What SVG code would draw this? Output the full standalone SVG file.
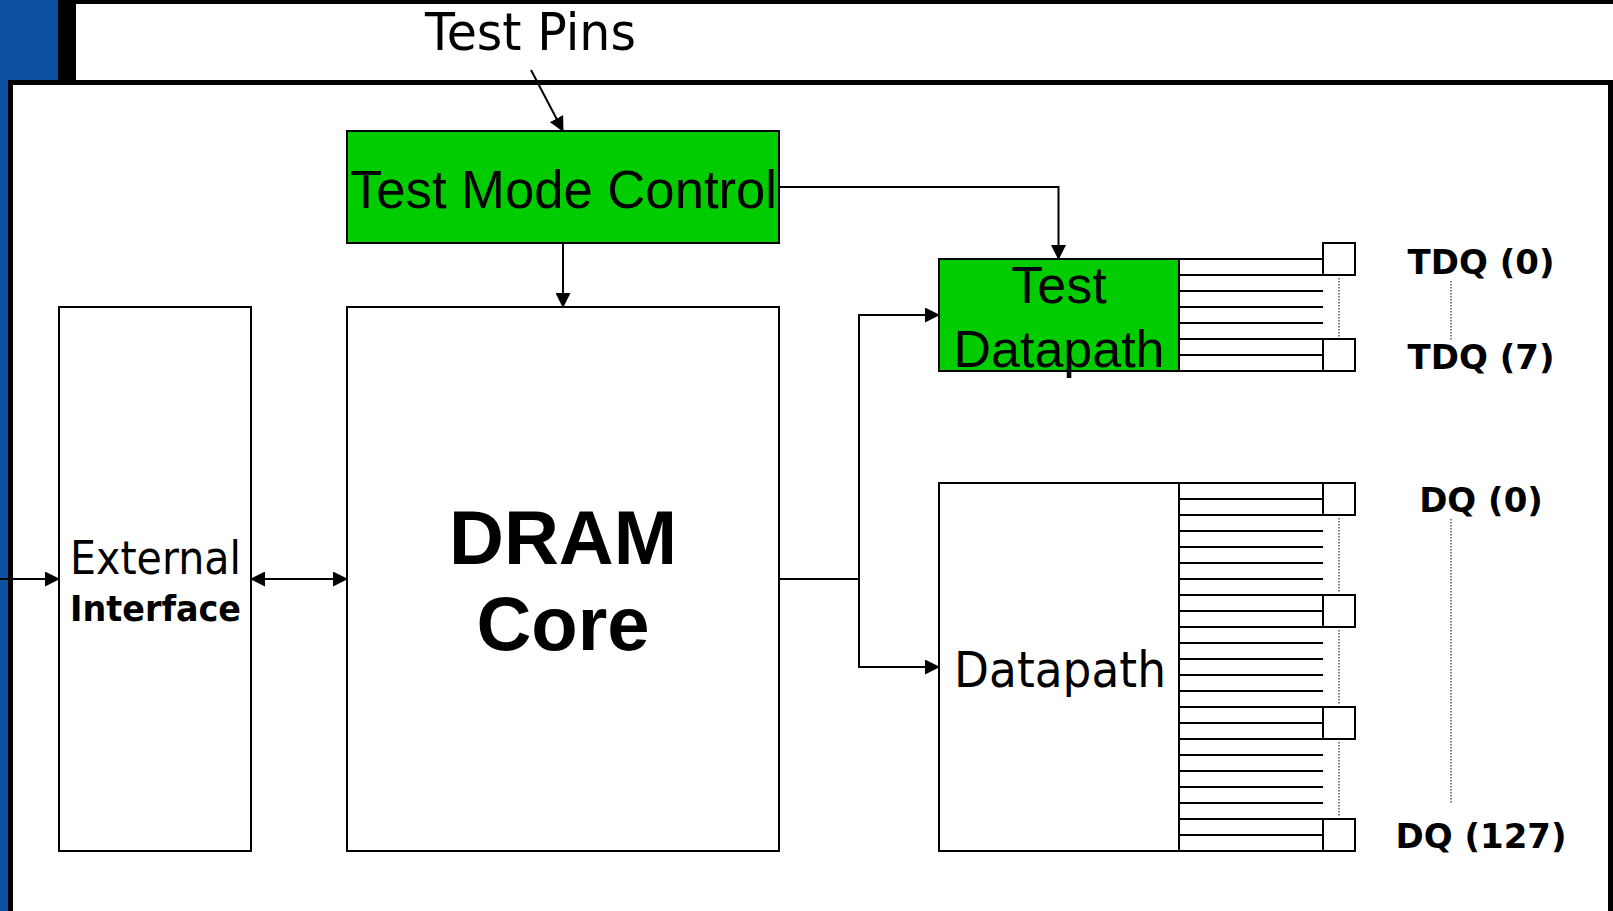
<svg xmlns="http://www.w3.org/2000/svg" width="1613" height="911" viewBox="0 0 1613 911">
  <style>
    .box { fill: #ffffff; stroke: #000; stroke-width: 2; }
    .green { fill: #00cc00; stroke: #000; stroke-width: 2; }
    .wire { fill: none; stroke: #000; stroke-width: 2; }
    .bus { stroke: #000; stroke-width: 2; }
    .dots { stroke: #333; stroke-width: 1.2; stroke-dasharray: 1.5 1.5; }
    .sans { font-family: "Liberation Sans", Arial, sans-serif; fill: #000; }
    .hum { font-family: "DejaVu Sans", Verdana, sans-serif; fill: #000; }
    .pin { font-family: "DejaVu Sans", Verdana, sans-serif; font-weight: bold; font-size: 34px; fill: #000; text-anchor: middle; }
  </style>
  <defs>
    <marker id="arrow" markerUnits="userSpaceOnUse" markerWidth="15" markerHeight="15" refX="14" refY="7.5" orient="auto-start-reverse" viewBox="0 0 15 15">
      <path d="M0,0 L15,7.5 L0,15 z" fill="#000"/>
    </marker>
  </defs>

  <!-- slide background and frame -->
  <rect x="0" y="0" width="1613" height="911" fill="#ffffff"/>
  <rect x="0" y="0" width="58" height="82" fill="#0c51a1"/>
  <rect x="0" y="0" width="9" height="911" fill="#0c51a1"/>
  <rect x="58" y="0" width="18" height="82" fill="#000"/>
  <rect x="58" y="0" width="1555" height="4" fill="#000"/>
  <rect x="10.5" y="82.5" width="1600" height="900" fill="none" stroke="#000" stroke-width="5"/>

  <!-- connectors -->
  <g id="connectors">
    <path class="wire" d="M531,70 L563,131" marker-end="url(#arrow)"/>
    <path class="wire" d="M563,243 L563,307" marker-end="url(#arrow)"/>
    <path class="wire" d="M779,187 L1058.5,187 L1058.5,259" marker-end="url(#arrow)"/>
    <path class="wire" d="M0,579 L59,579" marker-end="url(#arrow)"/>
    <path class="wire" d="M251,579 L347,579" marker-start="url(#arrow)" marker-end="url(#arrow)"/>
    <path class="wire" d="M779,579 L859,579"/>
    <path class="wire" d="M939,315 L859,315 L859,667 L939,667" marker-start="url(#arrow)" marker-end="url(#arrow)"/>
  </g>

  <g id="test-pins">
    <text class="hum" x="425" y="50" font-size="51" textLength="211" lengthAdjust="spacingAndGlyphs">Test Pins</text>
  </g>

  <g id="test-mode-control">
    <rect class="green" x="347" y="131" width="432" height="112"/>
    <text class="sans" x="350" y="208" font-size="53" textLength="427" lengthAdjust="spacingAndGlyphs">Test Mode Control</text>
  </g>

  <g id="external-interface">
    <rect class="box" x="59" y="307" width="192" height="544"/>
    <text class="hum" x="70" y="574" font-size="46" textLength="171" lengthAdjust="spacingAndGlyphs">External</text>
    <text class="hum" x="70" y="621" font-size="36" font-weight="bold" textLength="171" lengthAdjust="spacingAndGlyphs">Interface</text>
  </g>

  <g id="dram-core">
    <rect class="box" x="347" y="307" width="432" height="544"/>
    <text class="sans" x="563" y="564" font-size="76" font-weight="bold" text-anchor="middle">DRAM</text>
    <text class="sans" x="563" y="650" font-size="76" font-weight="bold" text-anchor="middle">Core</text>
  </g>

  <g id="test-datapath">
    <g class="bus">
      <line x1="1179" y1="259" x2="1323" y2="259"/>
      <line x1="1179" y1="275" x2="1323" y2="275"/>
      <line x1="1179" y1="291" x2="1323" y2="291"/>
      <line x1="1179" y1="307" x2="1323" y2="307"/>
      <line x1="1179" y1="323" x2="1323" y2="323"/>
      <line x1="1179" y1="339" x2="1323" y2="339"/>
      <line x1="1179" y1="355" x2="1323" y2="355"/>
      <line x1="1179" y1="371" x2="1323" y2="371"/>
    </g>
    <rect class="box" x="1323" y="243" width="32" height="32"/>
    <rect class="box" x="1323" y="339" width="32" height="32"/>
    <line class="dots" x1="1339" y1="278" x2="1339" y2="337"/>
    <rect class="green" x="939" y="259" width="240" height="112"/>
    <text class="sans" x="1059" y="303" font-size="52" text-anchor="middle">Test</text>
    <text class="sans" x="1059" y="367" font-size="52" text-anchor="middle">Datapath</text>
  </g>

  <g id="tdq-labels">
    <text class="pin" x="1481" y="274">TDQ (0)</text>
    <line class="dots" x1="1451" y1="281" x2="1451" y2="340"/>
    <text class="pin" x="1481" y="369">TDQ (7)</text>
  </g>

  <g id="datapath">
    <rect class="box" x="939" y="483" width="240" height="368"/>
    <g class="bus">
      <line x1="1179" y1="483" x2="1323" y2="483"/>
      <line x1="1179" y1="499" x2="1323" y2="499"/>
      <line x1="1179" y1="515" x2="1323" y2="515"/>
      <line x1="1179" y1="531" x2="1323" y2="531"/>
      <line x1="1179" y1="547" x2="1323" y2="547"/>
      <line x1="1179" y1="563" x2="1323" y2="563"/>
      <line x1="1179" y1="579" x2="1323" y2="579"/>
      <line x1="1179" y1="595" x2="1323" y2="595"/>
      <line x1="1179" y1="611" x2="1323" y2="611"/>
      <line x1="1179" y1="627" x2="1323" y2="627"/>
      <line x1="1179" y1="643" x2="1323" y2="643"/>
      <line x1="1179" y1="659" x2="1323" y2="659"/>
      <line x1="1179" y1="675" x2="1323" y2="675"/>
      <line x1="1179" y1="691" x2="1323" y2="691"/>
      <line x1="1179" y1="707" x2="1323" y2="707"/>
      <line x1="1179" y1="723" x2="1323" y2="723"/>
      <line x1="1179" y1="739" x2="1323" y2="739"/>
      <line x1="1179" y1="755" x2="1323" y2="755"/>
      <line x1="1179" y1="771" x2="1323" y2="771"/>
      <line x1="1179" y1="787" x2="1323" y2="787"/>
      <line x1="1179" y1="803" x2="1323" y2="803"/>
      <line x1="1179" y1="819" x2="1323" y2="819"/>
      <line x1="1179" y1="835" x2="1323" y2="835"/>
      <line x1="1179" y1="851" x2="1323" y2="851"/>
    </g>
    <rect class="box" x="1323" y="483" width="32" height="32"/>
    <rect class="box" x="1323" y="595" width="32" height="32"/>
    <rect class="box" x="1323" y="707" width="32" height="32"/>
    <rect class="box" x="1323" y="819" width="32" height="32"/>
    <line class="dots" x1="1339" y1="518" x2="1339" y2="592"/>
    <line class="dots" x1="1339" y1="630" x2="1339" y2="704"/>
    <line class="dots" x1="1339" y1="742" x2="1339" y2="816"/>
    <text class="hum" x="954" y="687" font-size="50" textLength="212" lengthAdjust="spacingAndGlyphs">Datapath</text>
  </g>

  <g id="dq-labels">
    <text class="pin" x="1481" y="512">DQ (0)</text>
    <line class="dots" x1="1451" y1="519" x2="1451" y2="803"/>
    <text class="pin" x="1481" y="848">DQ (127)</text>
  </g>
</svg>
